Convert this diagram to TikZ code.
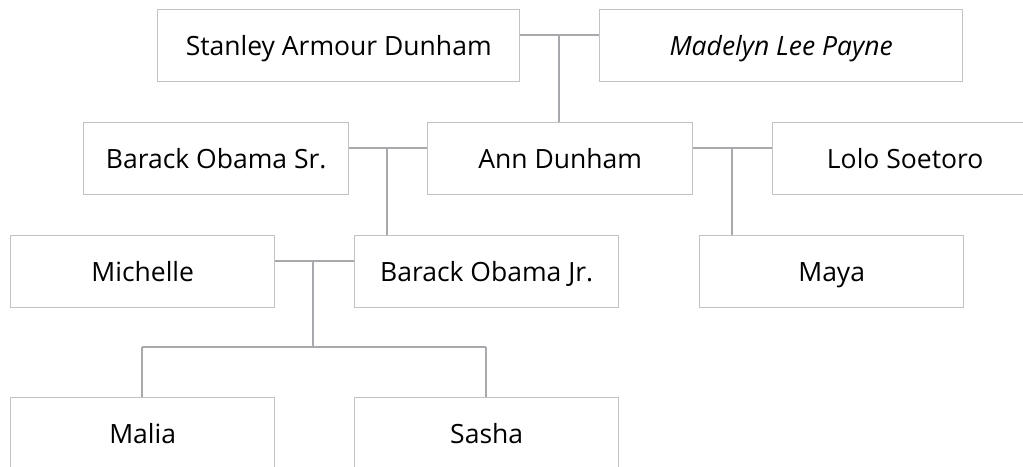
\documentclass[tikz,border=0pt]{standalone}
\usepackage{fontspec}
\setmainfont{Open Sans}
\definecolor{boxline}{HTML}{C2C2C4}
\definecolor{conline}{HTML}{A9A9AD}
\begin{document}
\begin{tikzpicture}[x=1pt,y=-1pt,
  person/.style={draw=boxline, line width=1.4pt, fill=white, anchor=north west,
    inner sep=0pt, minimum height=72pt, text height=18.9pt, text depth=0pt,
    font=\fontsize{26.5}{29}\selectfont, text=black},
  link/.style={draw=conline, line width=2.4pt}]
\useasboundingbox (0,0) rectangle (1023,466);
% connector junctions
\coordinate (c1) at (559,35);
\coordinate (c2) at (387,148);
\coordinate (c3) at (732,148);
\coordinate (c4) at (313,261);
\coordinate (c5) at (313,347);
\coordinate (l5) at (142,347);
\coordinate (r5) at (486,347);
% boxes
\node[person, minimum width=362pt] (stanley) at (157,9) {Stanley Armour Dunham};
\node[person, minimum width=363pt] (madelyn) at (599,9) {\itshape Madelyn Lee Payne};
\node[person, minimum width=265pt] (obamasr) at (83,122) {Barack Obama Sr.};
\node[person, minimum width=265pt] (ann) at (427,122) {Ann Dunham};
\node[person, minimum width=265pt] (lolo) at (772,122) {Lolo Soetoro};
\node[person, minimum width=264pt] (michelle) at (10,235) {Michelle};
\node[person, minimum width=264pt] (obamajr) at (354,235) {Barack Obama Jr.};
\node[person, minimum width=264pt] (maya) at (699,235) {Maya};
\node[person, minimum width=264pt] (malia) at (10,397) {Malia};
\node[person, minimum width=264pt] (sasha) at (354,397) {Sasha};
% links
\draw[link] (stanley.east |- c1) -- (madelyn.west |- c1);
\draw[link] (c1) -- (c1 |- ann.north);
\draw[link] (obamasr.east |- c2) -- (ann.west |- c2);
\draw[link] (c2) -- (c2 |- obamajr.north);
\draw[link] (ann.east |- c3) -- (lolo.west |- c3);
\draw[link] (c3) -- (c3 |- maya.north);
\draw[link] (michelle.east |- c4) -- (obamajr.west |- c4);
\draw[link] (c4) -- (c5);
\draw[link] (l5) -- (r5);
\draw[link] (l5) -- (l5 |- malia.north);
\draw[link] (r5) -- (r5 |- sasha.north);
\end{tikzpicture}
\end{document}
